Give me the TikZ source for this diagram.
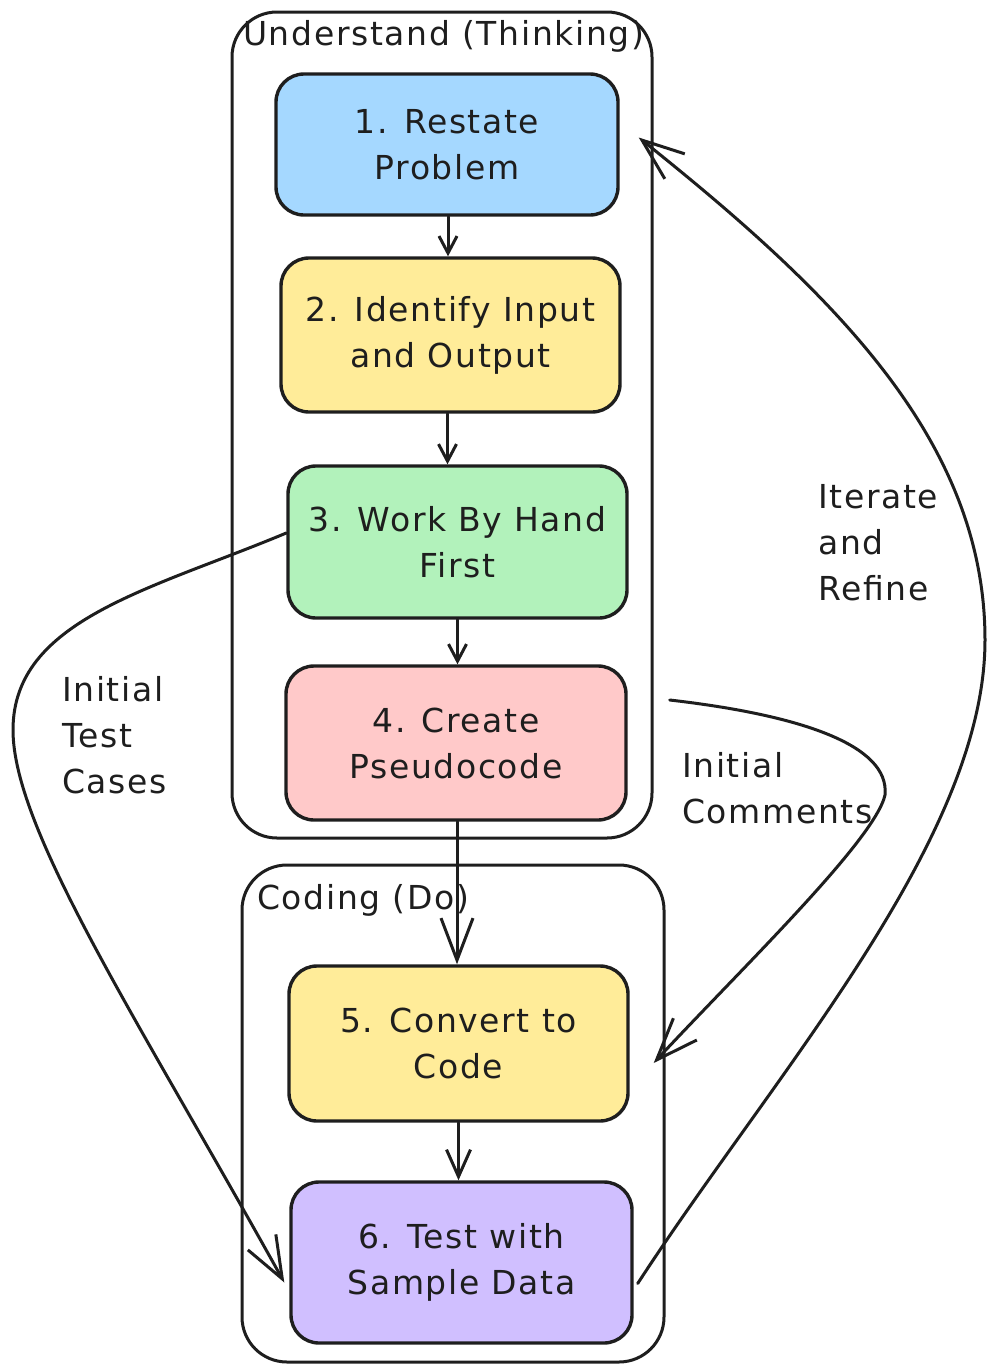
\documentclass[tikz,border=0pt]{standalone}
\usepackage{fontspec}
\setmainfont[LetterSpace=5]{DejaVu Sans}
\usetikzlibrary{arrows.meta}
\definecolor{ink}{HTML}{1E1E1E}
\definecolor{skyfill}{HTML}{A5D8FF}
\definecolor{sandfill}{HTML}{FFEC99}
\definecolor{mintfill}{HTML}{B2F2BB}
\definecolor{rosefill}{HTML}{FFC9C9}
\definecolor{lilacfill}{HTML}{D0BFFF}
\newcommand\handfont{\fontsize{33}{46}\selectfont}
\begin{document}
\begin{tikzpicture}[x=1pt,y=-1pt,
  stepbox/.style={draw=ink, line width=3.4pt, rounded corners=28pt,
    align=center, font=\handfont, text=ink, inner sep=0pt},
  group/.style={draw=ink, line width=3pt, rounded corners=45pt, inner sep=0pt},
  label/.style={font=\handfont, text=ink, align=left, anchor=north west, inner sep=0pt},
  flow/.style={draw=ink, line width=3pt, line cap=round, line join=round},
  smallhead/.style={-{Straight Barb[length=17pt,width=18pt]}},
  midhead/.style={-{Straight Barb[length=27pt,width=24pt]}},
  bighead/.style={-{Straight Barb[length=42pt,width=32pt]}},
]
\useasboundingbox (0,0) rectangle (986,1366);

% phase containers
\node[group, minimum width=420pt, minimum height=826pt] (think) at (442,425) {};
\node[group, minimum width=422pt, minimum height=497pt] (code) at (453,1113.5) {};
\node[font=\handfont, text=ink, anchor=west, inner sep=0pt] (thinktitle) at (243,36) {Understand (Thinking)};
\node[font=\handfont, text=ink, anchor=west, inner sep=0pt] (codetitle) at (257,900) {Coding (Do)};

% steps
\node[stepbox, fill=skyfill,   minimum width=342pt, minimum height=141pt] (s1) at (447,144.5)  {1. Restate\\Problem};
\node[stepbox, fill=sandfill,  minimum width=339pt, minimum height=154pt] (s2) at (450.5,335)  {2. Identify Input\\and Output};
\node[stepbox, fill=mintfill,  minimum width=339pt, minimum height=152pt] (s3) at (457.5,542)  {3. Work By Hand\\First};
\node[stepbox, fill=rosefill,  minimum width=340pt, minimum height=154pt] (s4) at (456,743)    {4. Create\\Pseudocode};
\node[stepbox, fill=sandfill,  minimum width=339pt, minimum height=155pt] (s5) at (458.5,1043.5) {5. Convert to\\Code};
\node[stepbox, fill=lilacfill, minimum width=341pt, minimum height=161pt] (s6) at (461.5,1262.5) {6. Test with\\Sample Data};

% straight flow
\draw[flow, smallhead] ([xshift=1pt]s1.south) -- ([xshift=1pt]s1.south |- s2.north);
\draw[flow, smallhead] ([xshift=-3pt]s2.south) -- ([xshift=-3pt]s2.south |- s3.north);
\draw[flow, smallhead] (s3.south) -- (s3.south |- s4.north);
\draw[flow, bighead] ([xshift=1pt]s4.south) -- ([xshift=1pt]s4.south |- s5.north);
\draw[flow, midhead] (s5.south) -- (s5.south |- s6.north);

% side loops
\coordinate (notes) at ([xshift=42pt,yshift=43pt]s4.east);
\draw[flow, bighead] ([yshift=9pt]s3.west)
  .. controls (150,590) and (13,620) .. (13,730)
  .. controls (13,830) and (139,1021) .. ([xshift=-5pt,yshift=-20pt]s6.west);
\draw[flow, bighead] (notes)
  .. controls (800,715) and (890,745) .. (885,795)
  .. controls (875,840) and (740,970) .. ([xshift=24pt,yshift=-19.5pt]s5.east);
\draw[flow, bighead] ([xshift=4pt,yshift=-21pt]s6.east)
  .. controls (773,1075) and (985,840) .. (985,640)
  .. controls (985,440) and (832,292) .. ([xshift=19pt,yshift=7pt]s1.east);

% loop labels
\node[label] (lbltests) at (62,676) {Initial\\Test\\Cases};
\node[label] (lblnotes) at (682,752) {Initial\\Comments};
\node[label] (lbliter) at (818,484) {Iterate\\and\\Refine};
\end{tikzpicture}
\end{document}
